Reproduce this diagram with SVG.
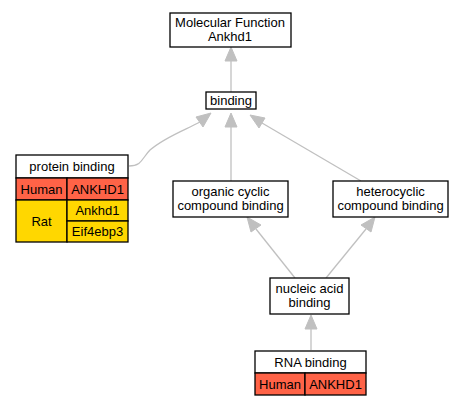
<svg xmlns="http://www.w3.org/2000/svg" width="464" height="405" viewBox="0 0 464 405">
<style>
text{font-family:"Liberation Sans",Arial,sans-serif;font-size:13px;fill:#000;text-anchor:middle}
.box{fill:#fff;stroke:#000;stroke-width:1.3}
.hu{fill:#ff6347;stroke:#000;stroke-width:1.3}
.rat{fill:#ffd700;stroke:#000;stroke-width:1.3}
.e{fill:none;stroke:#c0c0c0;stroke-width:1.3}
.ah{fill:#c0c0c0;stroke:#c0c0c0}
</style>
<rect width="464" height="405" fill="#fff"/>
<g id="edges">
<path class="e" d="M231,92 L231,60"/>
<polygon class="ah" points="231,47 225,61 237,61"/>
<path class="e" d="M231,181 L231,127"/>
<polygon class="ah" points="231,113 225,127 237,127"/>
<path class="e" d="M361,181 L262,123"/>
<polygon class="ah" points="250,115 259,128 265,118"/>
<path class="e" d="M129,166 C142,166 142,158 150,150 C165,137 185,130 200,122"/>
<polygon class="ah" points="211,113 196,117 203,127"/>
<path class="e" d="M295,278 L256,229"/>
<polygon class="ah" points="247,217 251,232 261,225"/>
<path class="e" d="M326,278 L366,229"/>
<polygon class="ah" points="375,217 361,225 371,232"/>
<path class="e" d="M311,350 L311,329"/>
<polygon class="ah" points="311,315 305,329 317,329"/>
</g>
<g id="mf">
<rect class="box" x="170" y="13" width="121" height="34"/>
<text x="230" y="27">Molecular Function</text>
<text x="230" y="40.5">Ankhd1</text>
</g>
<g id="binding">
<rect class="box" x="206" y="92" width="50" height="17"/>
<text x="231" y="104.5">binding</text>
</g>
<g id="protein">
<rect class="box" x="16" y="155" width="112" height="23"/>
<text x="72" y="171">protein binding</text>
<rect class="hu" x="16" y="178" width="51" height="22"/>
<text x="41.5" y="193.5">Human</text>
<rect class="hu" x="67" y="178" width="61" height="22"/>
<text x="97.5" y="193.5">ANKHD1</text>
<rect class="rat" x="16" y="200" width="51" height="42"/>
<text x="41.5" y="225.5">Rat</text>
<rect class="rat" x="67" y="200" width="61" height="21"/>
<text x="97.5" y="215">Ankhd1</text>
<rect class="rat" x="67" y="221" width="61" height="21"/>
<text x="97.5" y="236">Eif4ebp3</text>
</g>
<g id="organic">
<rect class="box" x="173" y="181" width="115" height="36"/>
<text x="230.5" y="196">organic cyclic</text>
<text x="230.5" y="209.5">compound binding</text>
</g>
<g id="hetero">
<rect class="box" x="333" y="181" width="115" height="36"/>
<text x="390.5" y="196">heterocyclic</text>
<text x="390.5" y="209.5">compound binding</text>
</g>
<g id="nucleic">
<rect class="box" x="270" y="278" width="79" height="36"/>
<text x="309.5" y="293">nucleic acid</text>
<text x="309.5" y="306.5">binding</text>
</g>
<g id="rna">
<rect class="box" x="255" y="351" width="111" height="22"/>
<text x="310.5" y="366.5">RNA binding</text>
<rect class="hu" x="255" y="373" width="50" height="22"/>
<text x="280" y="388.5">Human</text>
<rect class="hu" x="305" y="373" width="61" height="22"/>
<text x="335.5" y="388.5">ANKHD1</text>
</g>
</svg>
